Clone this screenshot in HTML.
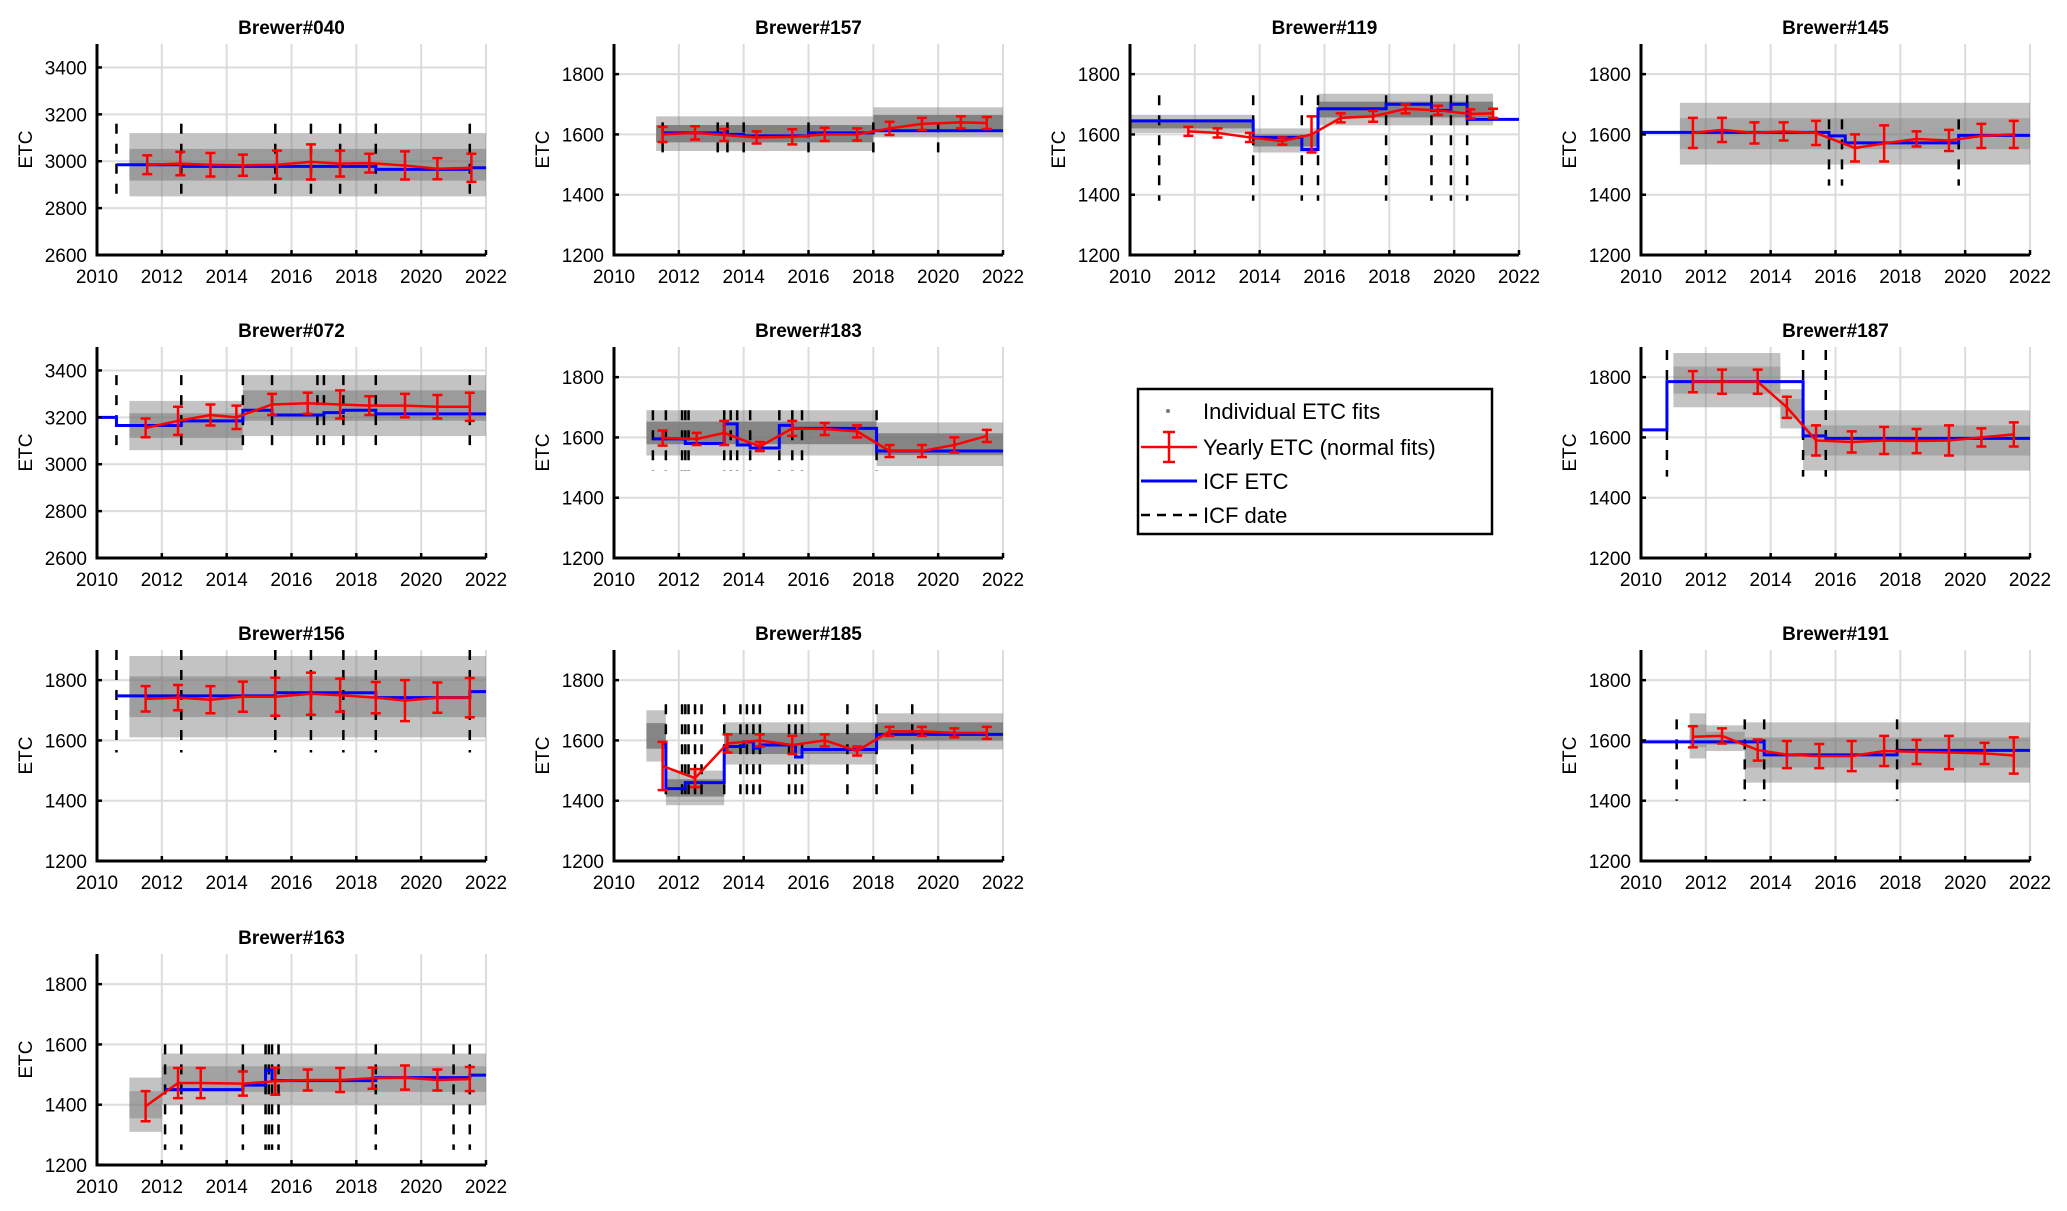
<!DOCTYPE html>
<html><head><meta charset="utf-8"><style>
html,body{margin:0;padding:0;background:#fff;}
svg{display:block;font-family:"Liberation Sans",Arial,sans-serif;}
</style></head><body>
<svg id="fig" width="2067" height="1211" viewBox="0 0 2067 1211" xmlns="http://www.w3.org/2000/svg">
<g id="legend">
  <rect x="1138" y="389" width="354" height="145" fill="#fff" stroke="#000" stroke-width="2.5"/>
  <g>
    <circle cx="1168" cy="411" r="2" fill="#777"/>
    <text x="1203" y="419" font-size="22">Individual ETC fits</text>
  </g>
  <g>
    <line x1="1141" y1="447" x2="1197" y2="447" stroke="#f00" stroke-width="2.5"/>
    <line x1="1169" y1="432" x2="1169" y2="462" stroke="#f00" stroke-width="2.5"/>
    <line x1="1163" y1="432" x2="1175" y2="432" stroke="#f00" stroke-width="2.5"/>
    <line x1="1163" y1="462" x2="1175" y2="462" stroke="#f00" stroke-width="2.5"/>
    <text x="1203" y="455" font-size="22">Yearly ETC (normal fits)</text>
  </g>
  <g>
    <line x1="1141" y1="481" x2="1197" y2="481" stroke="#00f" stroke-width="3"/>
    <text x="1203" y="489" font-size="22">ICF ETC</text>
  </g>
  <g>
    <line x1="1141" y1="515" x2="1197" y2="515" stroke="#000" stroke-width="2.5" stroke-dasharray="9 7"/>
    <text x="1203" y="523" font-size="22">ICF date</text>
  </g>
</g>
</svg>
<script>
// ---- data ----
const panelNames = ["Brewer#040","Brewer#157","Brewer#119","Brewer#145","Brewer#072","Brewer#183","Brewer#187","Brewer#156","Brewer#185","Brewer#191","Brewer#163"];
const xTicks = [2010,2012,2014,2016,2018,2020,2022];
const yTicksHigh = [2600,2800,3000,3200,3400];
const yTicksLow = [1200,1400,1600,1800];

// Brewer#040
const b040Years = [2011.55,2012.57,2013.5,2014.5,2015.55,2016.6,2017.5,2018.4,2019.5,2020.5,2021.55];
const b040Vals  = [2985,2990,2985,2983,2985,2997,2990,2992,2982,2968,2972];
const b040Errs  = [40,50,50,45,60,75,55,40,60,45,60];
const b040IcfX  = [2010.6,2012.6,2018.6,2021.5,2022];
const b040IcfV  = [2985,2978,2965,2972];
const b040Dates = [2010.6,2012.6,2015.5,2016.6,2017.5,2018.6,2021.5];
const b040DateRange = [2820,3160];
const b040CloudX = [2011,2022];
const b040CloudLo = [2850];
const b040CloudHi = [3120];

// Brewer#157
const b157Years = [2011.5,2012.5,2013.4,2014.4,2015.5,2016.5,2017.5,2018.5,2019.5,2020.7,2021.5];
const b157Vals  = [1600,1605,1598,1590,1592,1600,1600,1620,1635,1640,1638];
const b157Errs  = [25,22,20,20,25,22,20,22,20,20,20];
const b157IcfX  = [2011.5,2013.5,2014.0,2016.0,2018.0,2022];
const b157IcfV  = [1605,1600,1595,1605,1612];
const b157Dates = [2011.5,2013.2,2013.5,2014.0,2016.0,2018.0,2020.0];
const b157DateRange = [1540,1640];
const b157CloudX = [2011.3,2018,2022];
const b157CloudLo = [1545,1590];
const b157CloudHi = [1660,1690];

// Brewer#119
const b119Years = [2011.8,2012.7,2013.7,2014.7,2015.6,2016.5,2017.5,2018.5,2019.5,2020.5,2021.2];
const b119Vals  = [1610,1605,1590,1578,1600,1655,1660,1685,1680,1668,1670];
const b119Errs  = [15,15,15,12,60,15,18,15,15,15,15];
const b119IcfX  = [2010,2013.8,2015.3,2015.8,2017.9,2019.3,2019.9,2020.4,2022];
const b119IcfV  = [1645,1590,1550,1685,1700,1680,1700,1650];
const b119Dates = [2010.9,2013.8,2015.3,2015.8,2017.9,2019.3,2019.9,2020.4];
const b119DateRange = [1380,1730];
const b119CloudX = [2010,2013.8,2015.8,2021.2];
const b119CloudLo = [1605,1540,1630];
const b119CloudHi = [1665,1620,1735];

// Brewer#145
const b145Years = [2011.6,2012.5,2013.5,2014.4,2015.4,2016.6,2017.5,2018.5,2019.5,2020.5,2021.5];
const b145Vals  = [1605,1615,1605,1610,1605,1555,1570,1585,1580,1595,1600];
const b145Errs  = [50,40,35,30,40,45,60,25,35,40,45];
const b145IcfX  = [2010,2015.8,2016.3,2019.8,2022];
const b145IcfV  = [1607,1595,1572,1597];
const b145Dates = [2015.8,2016.2,2019.8];
const b145DateRange = [1430,1650];
const b145CloudX = [2011.2,2022];
const b145CloudLo = [1500];
const b145CloudHi = [1705];

// Brewer#072
const b072Years = [2011.5,2012.5,2013.5,2014.3,2015.4,2016.5,2017.5,2018.4,2019.5,2020.5,2021.5];
const b072Vals  = [3155,3185,3210,3200,3255,3260,3255,3250,3250,3245,3245];
const b072Errs  = [40,60,45,50,45,45,60,40,50,50,60];
const b072IcfX  = [2010,2010.6,2012.6,2014.5,2015.4,2017.0,2017.6,2018.6,2022];
const b072IcfV  = [3200,3165,3185,3230,3210,3220,3230,3215];
const b072Dates = [2010.6,2012.6,2014.5,2015.4,2016.8,2017.0,2017.6,2018.6,2021.5];
const b072DateRange = [3040,3380];
const b072CloudX = [2011,2014.5,2022];
const b072CloudLo = [3060,3120];
const b072CloudHi = [3270,3380];

// Brewer#183
const b183Years = [2011.5,2012.55,2013.4,2014.5,2015.5,2016.5,2017.5,2018.5,2019.5,2020.5,2021.5];
const b183Vals  = [1598,1595,1615,1570,1630,1628,1620,1555,1555,1575,1605];
const b183Errs  = [25,20,40,15,25,20,20,20,20,25,20];
const b183IcfX  = [2011.2,2012.2,2013.4,2013.8,2014.2,2015.1,2015.5,2018.1,2022];
const b183IcfV  = [1595,1580,1645,1575,1565,1640,1630,1555];
const b183Dates = [2011.2,2011.6,2012.1,2012.2,2012.3,2013.4,2013.6,2013.8,2014.2,2015.1,2015.5,2015.8,2018.1];
const b183DateRange = [1490,1690];
const b183CloudX = [2011,2018.1,2022];
const b183CloudLo = [1540,1505];
const b183CloudHi = [1690,1650];

// Brewer#187
const b187Years = [2011.6,2012.5,2013.6,2014.5,2015.4,2016.5,2017.5,2018.5,2019.5,2020.5,2021.5];
const b187Vals  = [1785,1785,1785,1700,1590,1585,1590,1588,1590,1600,1610];
const b187Errs  = [35,40,40,35,50,35,45,40,50,30,40];
const b187IcfX  = [2010,2010.8,2015.0,2015.7,2022];
const b187IcfV  = [1625,1785,1605,1597];
const b187Dates = [2010.8,2015.0,2015.7];
const b187DateRange = [1470,1890];
const b187CloudX = [2011,2014.3,2015.0,2022];
const b187CloudLo = [1700,1630,1490];
const b187CloudHi = [1880,1760,1690];

// Brewer#156
const b156Years = [2011.5,2012.5,2013.5,2014.5,2015.5,2016.6,2017.5,2018.6,2019.5,2020.5,2021.5];
const b156Vals  = [1738,1742,1735,1745,1745,1755,1750,1742,1732,1742,1742];
const b156Errs  = [42,42,45,50,63,70,55,52,68,50,65];
const b156IcfX  = [2010.6,2015.5,2018.6,2021.5,2022];
const b156IcfV  = [1748,1758,1742,1762];
const b156Dates = [2010.6,2012.6,2015.5,2016.6,2017.6,2018.6,2021.5];
const b156DateRange = [1560,1900];
const b156CloudX = [2011,2022];
const b156CloudLo = [1610];
const b156CloudHi = [1880];

// Brewer#185
const b185Years = [2011.5,2012.5,2013.5,2014.5,2015.5,2016.5,2017.5,2018.5,2019.5,2020.5,2021.5];
const b185Vals  = [1515,1475,1590,1600,1585,1600,1565,1630,1630,1625,1625];
const b185Errs  = [80,30,30,20,30,20,15,15,15,15,20];
const b185IcfX  = [2011.5,2011.6,2012.2,2013.4,2014.0,2014.3,2014.5,2015.6,2015.8,2018.1,2022];
const b185IcfV  = [1590,1440,1460,1580,1595,1575,1585,1545,1570,1620];
const b185Dates = [2011.6,2012.1,2012.2,2012.3,2012.5,2012.7,2013.4,2013.9,2014.1,2014.3,2014.5,2015.4,2015.6,2015.8,2017.2,2018.1,2019.2];
const b185DateRange = [1390,1720];
const b185CloudX = [2011,2011.6,2013.4,2018.1,2022];
const b185CloudLo = [1530,1385,1520,1570];
const b185CloudHi = [1700,1500,1660,1690];

// Brewer#191
const b191Years = [2011.6,2012.5,2013.6,2014.5,2015.5,2016.5,2017.5,2018.5,2019.5,2020.6,2021.5];
const b191Vals  = [1612,1615,1568,1553,1548,1548,1565,1562,1560,1557,1550];
const b191Errs  = [35,25,35,45,40,50,50,40,55,35,60];
const b191IcfX  = [2010,2013.8,2017.9,2022];
const b191IcfV  = [1595,1552,1567];
const b191Dates = [2011.1,2013.2,2013.8,2017.9];
const b191DateRange = [1400,1670];
const b191CloudX = [2011.5,2012,2013.2,2022];
const b191CloudLo = [1540,1565,1460];
const b191CloudHi = [1690,1650,1660];

// Brewer#163
const b163Years = [2011.5,2012.5,2013.2,2014.5,2015.5,2016.5,2017.5,2018.5,2019.5,2020.5,2021.5];
const b163Vals  = [1395,1472,1472,1470,1478,1482,1482,1488,1490,1482,1485];
const b163Errs  = [50,50,50,40,45,35,40,35,40,35,40];
const b163IcfX  = [2012.1,2014.5,2015.2,2015.4,2018.6,2021.5,2022];
const b163IcfV  = [1450,1465,1515,1480,1490,1498];
const b163Dates = [2012.1,2012.6,2014.5,2015.2,2015.3,2015.4,2015.6,2018.6,2021.0,2021.5];
const b163DateRange = [1250,1600];
const b163CloudX = [2011,2012,2022];
const b163CloudLo = [1310,1400];
const b163CloudHi = [1490,1570];

// ---- layout (not data) ----
const colX = [97,614,1130,1641];
const rowY = [44,347,650,954];
const W = 389, H = 211;
const panels = [
 {name:panelNames[0], r:0,c:0, hi:true, ys:b040Years,vs:b040Vals,es:b040Errs,ix:b040IcfX,iv:b040IcfV,d:b040Dates,dr:b040DateRange,cx:b040CloudX,cl:b040CloudLo,ch:b040CloudHi,op:0.55},
 {name:panelNames[1], r:0,c:1, hi:false,ys:b157Years,vs:b157Vals,es:b157Errs,ix:b157IcfX,iv:b157IcfV,d:b157Dates,dr:b157DateRange,cx:b157CloudX,cl:b157CloudLo,ch:b157CloudHi,op:0.9},
 {name:panelNames[2], r:0,c:2, hi:false,ys:b119Years,vs:b119Vals,es:b119Errs,ix:b119IcfX,iv:b119IcfV,d:b119Dates,dr:b119DateRange,cx:b119CloudX,cl:b119CloudLo,ch:b119CloudHi,op:0.9},
 {name:panelNames[3], r:0,c:3, hi:false,ys:b145Years,vs:b145Vals,es:b145Errs,ix:b145IcfX,iv:b145IcfV,d:b145Dates,dr:b145DateRange,cx:b145CloudX,cl:b145CloudLo,ch:b145CloudHi,op:0.4},
 {name:panelNames[4], r:1,c:0, hi:true, ys:b072Years,vs:b072Vals,es:b072Errs,ix:b072IcfX,iv:b072IcfV,d:b072Dates,dr:b072DateRange,cx:b072CloudX,cl:b072CloudLo,ch:b072CloudHi,op:0.55},
 {name:panelNames[5], r:1,c:1, hi:false,ys:b183Years,vs:b183Vals,es:b183Errs,ix:b183IcfX,iv:b183IcfV,d:b183Dates,dr:b183DateRange,cx:b183CloudX,cl:b183CloudLo,ch:b183CloudHi,op:0.85},
 {name:panelNames[6], r:1,c:3, hi:false,ys:b187Years,vs:b187Vals,es:b187Errs,ix:b187IcfX,iv:b187IcfV,d:b187Dates,dr:b187DateRange,cx:b187CloudX,cl:b187CloudLo,ch:b187CloudHi,op:0.4},
 {name:panelNames[7], r:2,c:0, hi:false,ys:b156Years,vs:b156Vals,es:b156Errs,ix:b156IcfX,iv:b156IcfV,d:b156Dates,dr:b156DateRange,cx:b156CloudX,cl:b156CloudLo,ch:b156CloudHi,op:0.5},
 {name:panelNames[8], r:2,c:1, hi:false,ys:b185Years,vs:b185Vals,es:b185Errs,ix:b185IcfX,iv:b185IcfV,d:b185Dates,dr:b185DateRange,cx:b185CloudX,cl:b185CloudLo,ch:b185CloudHi,op:0.85},
 {name:panelNames[9], r:2,c:3, hi:false,ys:b191Years,vs:b191Vals,es:b191Errs,ix:b191IcfX,iv:b191IcfV,d:b191Dates,dr:b191DateRange,cx:b191CloudX,cl:b191CloudLo,ch:b191CloudHi,op:0.45},
 {name:panelNames[10],r:3,c:0, hi:false,ys:b163Years,vs:b163Vals,es:b163Errs,ix:b163IcfX,iv:b163IcfV,d:b163Dates,dr:b163DateRange,cx:b163CloudX,cl:b163CloudLo,ch:b163CloudHi,op:0.45}
];

const NS = "http://www.w3.org/2000/svg";
const svg = document.getElementById('fig');
const legend = document.getElementById('legend');
function mk(tag, attrs, parent){
  const e = document.createElementNS(NS, tag);
  for (const k in attrs) e.setAttribute(k, attrs[k]);
  parent.appendChild(e);
  return e;
}

panels.forEach(p => {
  const x0 = colX[p.c], y0 = rowY[p.r];
  const ymin = p.hi ? 2600 : 1200, ymax = p.hi ? 3500 : 1900;
  const yt = p.hi ? yTicksHigh : yTicksLow;
  const sx = v => x0 + (v - 2010) / 12 * W;
  const sy = v => y0 + H - (v - ymin) / (ymax - ymin) * H;
  const slug = p.name.replace('Brewer#','brewer-');

  const g = mk('g', {}, svg);
  
  

  // grid
  const grid = mk('g', {stroke:'#dcdcdc','stroke-width':2}, g);
  
  
  xTicks.forEach(t => { if (t > 2010) mk('line', {x1:sx(t),x2:sx(t),y1:y0,y2:y0+H}, grid); });
  yt.forEach(t => { if (t > ymin) mk('line', {x1:x0,x2:x0+W,y1:sy(t),y2:sy(t)}, grid); });

  // scatter cloud
  const cloud = mk('g', {fill:'#7a7a7a','fill-opacity':p.op}, g);
  
  
  for (let i = 0; i < p.cl.length; i++) {
    const lo = p.cl[i], hi = p.ch[i];
    const mid = (lo + hi) / 2, q = (hi - lo) / 4;
    mk('rect', {x:sx(p.cx[i]), y:sy(hi), width:sx(p.cx[i+1])-sx(p.cx[i]), height:sy(lo)-sy(hi), 'fill-opacity':0.45}, cloud);
    mk('rect', {x:sx(p.cx[i]), y:sy(mid+q), width:sx(p.cx[i+1])-sx(p.cx[i]), height:sy(mid-q)-sy(mid+q)}, cloud);
  }

  // ICF dates
  const dg = mk('g', {stroke:'#000','stroke-width':2.5,'stroke-dasharray':'10 10'}, g);
  
  
  p.d.forEach(t => {
    const ln = mk('line', {x1:sx(t),x2:sx(t),y1:sy(p.dr[1]),y2:sy(p.dr[0])}, dg);
    
    
  });

  // ICF ETC step line
  let d = '';
  for (let i = 0; i < p.iv.length; i++) {
    d += (i === 0 ? 'M' : 'L') + sx(p.ix[i]) + ' ' + sy(p.iv[i]) + ' L' + sx(p.ix[i+1]) + ' ' + sy(p.iv[i]) + ' ';
  }
  const icf = mk('path', {d:d, fill:'none', stroke:'#0000ff','stroke-width':3}, g);
  
  

  // yearly line + error bars
  const yg = mk('g', {stroke:'#ff0000','stroke-width':2.5,fill:'none'}, g);
  
  
  mk('polyline', {points: p.ys.map((t,i) => sx(t)+','+sy(p.vs[i])).join(' ')}, yg);
  p.ys.forEach((t,i) => {
    const X = sx(t), a = sy(p.vs[i] + p.es[i]), b = sy(p.vs[i] - p.es[i]);
    const eb = mk('path', {d:`M${X} ${a} L${X} ${b} M${X-5} ${a} L${X+5} ${a} M${X-5} ${b} L${X+5} ${b}`}, yg);
    
    
  });

  // axes
  const ax = mk('g', {}, g);
  
  
  mk('path', {d:`M${x0} ${y0} L${x0} ${y0+H} L${x0+W} ${y0+H}`, fill:'none', stroke:'#000','stroke-width':3}, ax);
  xTicks.forEach(t => {
    mk('line', {x1:sx(t),x2:sx(t),y1:y0+H,y2:y0+H-5,stroke:'#000','stroke-width':2.5}, ax);
    const tx = mk('text', {x:sx(t), y:y0+H+28, 'font-size':19, 'text-anchor':'middle'}, ax);
    tx.textContent = t;
    
    
  });
  yt.forEach(t => {
    mk('line', {x1:x0,x2:x0+5,y1:sy(t),y2:sy(t),stroke:'#000','stroke-width':2.5}, ax);
    const tx = mk('text', {x:x0-10, y:sy(t)+7, 'font-size':19, 'text-anchor':'end'}, ax);
    tx.textContent = t;
    
    
  });
  const yl = mk('text', {x:x0-65, y:y0+H/2, 'font-size':19, 'text-anchor':'middle', transform:`rotate(-90 ${x0-65} ${y0+H/2})`}, ax);
  yl.textContent = 'ETC';
  
  
  const ti = mk('text', {x:x0+W/2, y:y0-10, 'font-size':19, 'font-weight':'bold', 'text-anchor':'middle'}, g);
  ti.textContent = p.name;
  
  
});
svg.appendChild(legend);
</script>
</body></html>
